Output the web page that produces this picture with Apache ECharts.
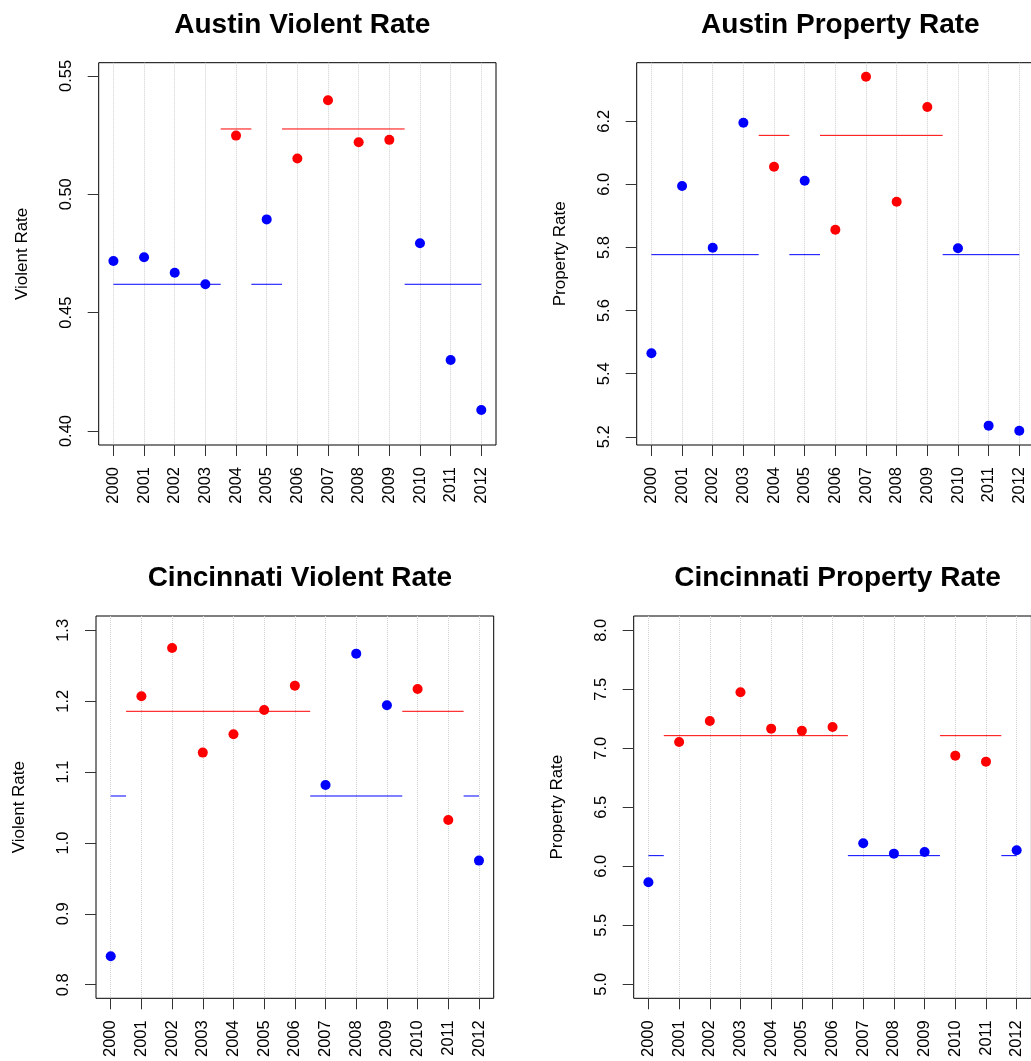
<!DOCTYPE html>
<html><head><meta charset="utf-8">
<script src="https://cdn.jsdelivr.net/npm/echarts@6/dist/echarts.min.js"></script>
<style>html,body{margin:0;padding:0;background:#fff}#c{width:1031px;height:1061px}</style>
</head><body><div id="c"></div>
<script>
// ---- data ----
const years = ['2000','2001','2002','2003','2004','2005','2006','2007','2008','2009','2010','2011','2012'];

const austinViolent = [0.4718,0.4734,0.4669,0.4620,0.5248,0.4894,0.5151,0.5397,0.5220,0.5230,0.4793,0.4300,0.4089];
const austinViolentState = [0,0,0,0,1,0,1,1,1,1,0,0,0];   // 0 = blue state, 1 = red state
const austinViolentMeans = [0.4620,0.5276];                // [blue, red]
const austinViolentTicks = ['0.40','0.45','0.50','0.55'];
const austinViolentRange = [0.3941,0.5556];

const austinProperty = [5.4646,5.9947,5.7994,6.1954,6.0560,6.0116,5.8564,6.3411,5.9451,6.2450,5.7973,5.2355,5.2196];
const austinPropertyState = [0,0,0,0,1,0,1,1,1,1,0,0,0];
const austinPropertyMeans = [5.7772,6.1552];
const austinPropertyTicks = ['5.2','5.4','5.6','5.8','6.0','6.2'];
const austinPropertyRange = [5.1742,6.3854];

const cinViolent = [0.8401,1.2070,1.2752,1.1275,1.1533,1.1877,1.2220,1.0818,1.2672,1.1943,1.2173,1.0325,0.9751];
const cinViolentState = [0,1,1,1,1,1,1,0,0,0,1,1,0];
const cinViolentMeans = [1.0663,1.1858];
const cinViolentTicks = ['0.8','0.9','1.0','1.1','1.2','1.3'];
const cinViolentRange = [0.7808,1.3203];

const cinProperty = [5.8644,7.0537,7.2316,7.4746,7.1667,7.1497,7.1808,6.1949,6.1073,6.1215,6.9379,6.8870,6.1356];
const cinPropertyState = [0,1,1,1,1,1,1,0,0,0,1,1,0];
const cinPropertyMeans = [6.0904,7.1073];
const cinPropertyTicks = ['5.0','5.5','6.0','6.5','7.0','7.5','8.0'];
const cinPropertyRange = [4.8814,8.1215];

// ---- layout ----
const FONT = '"Liberation Sans", Arial, Helvetica, sans-serif';
const COLORS = ['#0000FF', '#FF0000'];
const panels = [
  {title:'Austin Violent Rate', yName:'Violent Rate', values:austinViolent, state:austinViolentState, means:austinViolentMeans, ticks:austinViolentTicks, range:austinViolentRange, box:[98.7,62.7,397.3,382.3], titleTop:6},
  {title:'Austin Property Rate', yName:'Property Rate', values:austinProperty, state:austinPropertyState, means:austinPropertyMeans, ticks:austinPropertyTicks, range:austinPropertyRange, box:[636.7,62.7,397.3,382.3], titleTop:6},
  {title:'Cincinnati Violent Rate', yName:'Violent Rate', values:cinViolent, state:cinViolentState, means:cinViolentMeans, ticks:cinViolentTicks, range:cinViolentRange, box:[96,616,397.7,382.3], titleTop:559},
  {title:'Cincinnati Property Rate', yName:'Property Rate', values:cinProperty, state:cinPropertyState, means:cinPropertyMeans, ticks:cinPropertyTicks, range:cinPropertyRange, box:[633.7,616,397.7,382.3], titleTop:559}
];

const idx = years.map((y, i) => i);
const option = {animation:false, backgroundColor:'#fff', title:[], grid:[], xAxis:[], yAxis:[], series:[]};

panels.forEach((p, g) => {
  const [L, T, W, H] = p.box;
  option.title.push({text:p.title, left:L + W/2, top:p.titleTop, textAlign:'center',
    textStyle:{fontSize:28, fontWeight:'bold', color:'#000', fontFamily:FONT}});
  option.grid.push({left:L, top:T, width:W, height:H, show:true, borderColor:'#000', borderWidth:1,
    backgroundColor:'transparent', containLabel:false, outerBoundsMode:'none'});
  option.xAxis.push({type:'value', gridIndex:g, min:-0.48, max:12.48,
    axisLine:{show:false, onZero:false},
    axisTick:{show:true, length:11, customValues:idx, lineStyle:{color:'#333', width:1}},
    axisLabel:{customValues:idx, formatter:v => years[Math.round(v)], rotate:90, margin:22,
      fontSize:16.5, color:'#000', fontFamily:FONT},
    splitLine:{show:true, lineStyle:{type:'dotted', color:'#cfcfcf', width:1}}});
  const tickVals = p.ticks.map(Number);
  option.yAxis.push({type:'value', gridIndex:g, min:p.range[0], max:p.range[1],
    name:p.yName, nameLocation:'middle', nameGap:68,
    nameTextStyle:{fontSize:17, color:'#000', fontFamily:FONT},
    axisLine:{show:false, onZero:false},
    axisTick:{show:true, length:11, customValues:tickVals, lineStyle:{color:'#333', width:1}},
    axisLabel:{customValues:tickVals, rotate:90, margin:24, fontSize:16.5, color:'#000', fontFamily:FONT,
      formatter:v => { let best = 0; tickVals.forEach((t, k) => { if (Math.abs(t - v) < Math.abs(tickVals[best] - v)) best = k; }); return p.ticks[best]; }},
    splitLine:{show:false}});

  // mean segments for each run of equal state
  let start = 0;
  for (let k = 1; k <= p.state.length; k++) {
    if (k === p.state.length || p.state[k] !== p.state[start]) {
      const s = p.state[start];
      const a = Math.max(0, start - 0.5), b = Math.min(p.state.length - 1, k - 1 + 0.5);
      option.series.push({type:'line', xAxisIndex:g, yAxisIndex:g, silent:true, showSymbol:false, symbol:'none',
        z:2, lineStyle:{color:COLORS[s], width:1}, data:[[a, p.means[s]], [b, p.means[s]]]});
      start = k;
    }
  }
  [0, 1].forEach(s => {
    option.series.push({type:'scatter', xAxisIndex:g, yAxisIndex:g, symbol:'circle', symbolSize:10, z:3,
      itemStyle:{color:COLORS[s], opacity:1},
      data:p.values.map((v, k) => p.state[k] === s ? [k, v] : null).filter(d => d)});
  });
});

const chart = echarts.init(document.getElementById('c'), null, {renderer:'canvas'});
chart.setOption(option);
</script>
</body></html>
